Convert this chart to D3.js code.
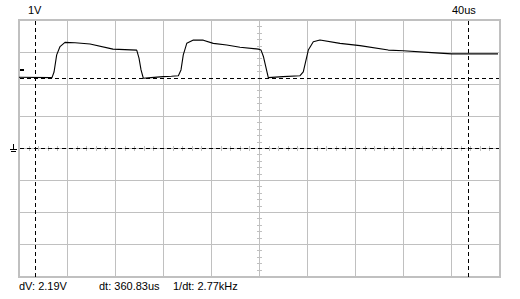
<!DOCTYPE html>
<html>
<head>
<meta charset="utf-8">
<script src="https://cdn.jsdelivr.net/npm/d3@7"></script>
<style>
  body { margin: 0; background: #fff; }
  text { font-family: "Liberation Sans", Arial, sans-serif; font-size: 11px; fill: #000; }
</style>
</head>
<body>
<svg id="scope"></svg>
<script>
// trace samples: time (us) and voltage (V)
const timeUs = [0, 27.5, 29.2, 31.4, 34.2, 38.3, 46.7, 59.2, 78.3, 98.1, 100, 101.7, 103.6,
  110, 120.3, 127, 132.8, 135, 136.9, 139.8, 145.3, 153.6, 161.9, 173.1, 184.2, 199.4,
  201.7, 203.75, 207.75, 220, 234.2, 236.9, 241.1, 245.25, 250.8, 267.5, 284.2, 307.75,
  320.25, 343.9, 360.6, 399.2];
const volts = [2.21, 2.2, 2.375, 2.91, 3.17, 3.3, 3.29, 3.25, 3.09, 3.06, 2.81, 2.44, 2.18,
  2.2, 2.23, 2.24, 2.26, 2.44, 2.91, 3.27, 3.375, 3.37, 3.27, 3.22, 3.15, 3.09,
  3.06, 2.85, 2.2, 2.23, 2.26, 2.38, 3.06, 3.32, 3.375, 3.27, 3.2, 3.06,
  3.04, 2.98, 2.94, 2.94];

// cursors
const cursorT = [13.33, 374.17];
const cursorV = [0, 2.19];

// labels
const voltLabel = "1V";
const timeLabel = "40us";
const readouts = ["dV: 2.19V", "dt: 360.83us", "1/dt: 2.77kHz"];

const W = 520, H = 299;
const box = {left: 19, right: 499, top: 20, bottom: 276};

const svg = d3.select("#scope").attr("width", W).attr("height", H);

const x = d3.scaleLinear().domain([0, 400]).range([box.left, box.right]);
const y = d3.scaleLinear().domain([-4, 4]).range([box.bottom, box.top]);

const px = v => Math.round(v) + 0.5;

// grid
const g = svg.append("g").attr("shape-rendering", "crispEdges");
g.selectAll(".vgrid").data(d3.range(40, 400, 40)).join("line")
  .attr("x1", d => px(x(d))).attr("x2", d => px(x(d)))
  .attr("y1", box.top).attr("y2", box.bottom + 1)
  .attr("stroke", "#c0c0c0");
g.selectAll(".hgrid").data(d3.range(-3, 4, 1)).join("line")
  .attr("y1", d => px(y(d))).attr("y2", d => px(y(d)))
  .attr("x1", box.left).attr("x2", box.right + 1)
  .attr("stroke", "#c0c0c0");

// minor ticks on the centre lines
const xMinor = d3.range(0, 400.01, 8).filter(d => d % 40 !== 0);
g.selectAll(".xminor").data(xMinor).join("line")
  .attr("x1", d => px(x(d))).attr("x2", d => px(x(d)))
  .attr("y1", y(0) - 2).attr("y2", y(0) + 3)
  .attr("stroke", "#c0c0c0");
const yMinor = d3.range(-4, 4.01, 0.2).filter(d => Math.abs(d - Math.round(d)) > 0.01);
g.selectAll(".yminor").data(yMinor).join("line")
  .attr("y1", d => px(y(d))).attr("y2", d => px(y(d)))
  .attr("x1", x(200) - 2).attr("x2", x(200) + 3)
  .attr("stroke", "#c0c0c0");

// border
g.append("rect")
  .attr("x", box.left).attr("y", box.top)
  .attr("width", box.right - box.left + 1).attr("height", box.bottom - box.top + 1)
  .attr("fill", "none").attr("stroke", "#c0c0c0").attr("stroke-width", 2);

// cursors
const c = svg.append("g").attr("shape-rendering", "crispEdges");
c.selectAll(".hcur").data(cursorV).join("line")
  .attr("y1", d => px(y(d))).attr("y2", d => px(y(d)))
  .attr("x1", box.left + 1).attr("x2", box.right)
  .attr("stroke", "#000").attr("stroke-dasharray", "4,3");
c.selectAll(".vcur").data(cursorT).join("line")
  .attr("x1", d => px(x(d))).attr("x2", d => px(x(d)))
  .attr("y1", box.top + 1).attr("y2", box.bottom + 1)
  .attr("stroke", "#000").attr("stroke-dasharray", "4,3");

// trace
const line = d3.line().x((d, i) => x(d)).y((d, i) => y(volts[i]));
svg.append("path")
  .attr("d", line(timeUs))
  .attr("fill", "none").attr("stroke", "#000").attr("stroke-width", 1.1)
  .attr("stroke-linejoin", "round");

// channel marker and ground symbol
svg.append("rect").attr("x", 20).attr("y", 69).attr("width", 4).attr("height", 2).attr("fill", "#000");
const gnd = svg.append("g").attr("shape-rendering", "crispEdges").attr("stroke", "#000");
gnd.append("line").attr("x1", 13.5).attr("x2", 13.5).attr("y1", 144).attr("y2", 149);
gnd.append("line").attr("x1", 10).attr("x2", 17).attr("y1", 149.5).attr("y2", 149.5);
gnd.append("line").attr("x1", 11).attr("x2", 16).attr("y1", 151.5).attr("y2", 151.5);

// labels
svg.append("text").attr("x", 28).attr("y", 14).text(voltLabel);
svg.append("text").attr("x", 452).attr("y", 14).text(timeLabel);
svg.selectAll(".readout").data(readouts).join("text")
  .attr("x", (d, i) => [19, 99, 173][i]).attr("y", 290)
  .text(d => d);
</script>
</body>
</html>
